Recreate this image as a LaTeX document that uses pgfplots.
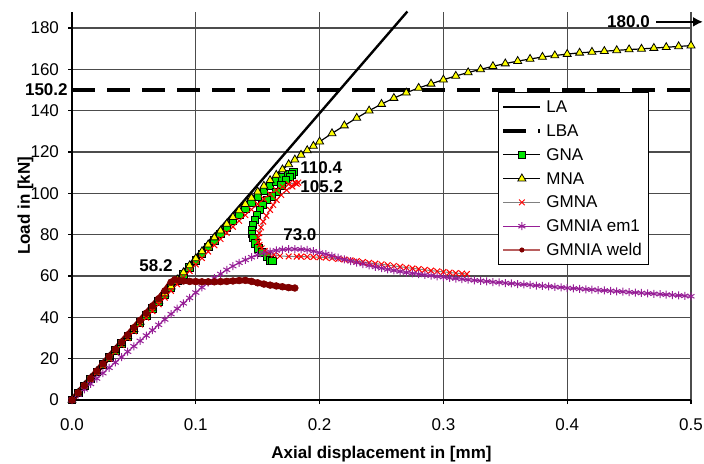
\documentclass[border=0pt]{standalone}
\usepackage{pgfplots}
\pgfplotsset{compat=1.18}
\usepackage{fontspec}
\setmainfont{Liberation Sans}
\usetikzlibrary{arrows.meta}
\definecolor{gnagreen}{RGB}{0,230,0}
\definecolor{mnayellow}{RGB}{255,255,0}
\definecolor{empurple}{RGB}{150,30,150}
\definecolor{weldred}{RGB}{128,0,0}
\definecolor{weldleg}{RGB}{185,95,95}
\newcommand{\f}{\fontsize{8.5}{10}\selectfont}
\begin{document}
\begin{tikzpicture}
\useasboundingbox (0,0) rectangle (352pt,231.5pt);
\begin{axis}[
  at={(36pt,31.5pt)}, anchor=south west,
  scale only axis, width=309.5pt, height=194.25pt,
  xmin=0, xmax=0.5, ymin=0, ymax=188,
  clip=false,
  axis x line*=bottom, axis y line*=left,
  axis line style={-, black, line width=0.6pt},
  xtick={0,0.1,0.2,0.3,0.4,0.5},
  xticklabels={0.0,0.1,0.2,0.3,0.4,0.5},
  ytick={0,20,40,60,80,100,120,140,160,180},
  yticklabels={0,20,40,60,80,100,120,140,160,180},
  tick align=outside, major tick length=2pt,
  tick style={black, line width=0.6pt},
  grid=major, major grid style={black!70, line width=0.6pt},
  tick label style={font=\f},
  xticklabel style={yshift=-4pt},
  yticklabel style={xshift=-1pt},
  xlabel={\bfseries Axial displacement in [mm]},
  ylabel={\bfseries Load in [kN]},
  label style={font=\f},
  xlabel style={at={(axis description cs:0.5,-0.139)}, anchor=center},
  ylabel style={at={(axis description cs:-0.075,0.5)}, anchor=center},
  legend style={at={(0.688,0.7928)}, anchor=north west, draw=black, line width=0.5pt, fill=white, font=\f,
    inner xsep=1.5pt, inner ysep=2pt, row sep=1.2pt,
    nodes={text height=6.5pt, text depth=1pt, inner ysep=1.6pt}},
  legend cell align=left,
  legend image code/.code={\draw[mark repeat=2,mark phase=2,#1] plot coordinates {(0pt,0pt) (9.25pt,0pt) (18.5pt,0pt)};},
]
% LA
\addplot[black, line width=1.2pt, no marks] coordinates {(0,0) (0.2709,188)};
\addlegendentry{LA}
% LBA
\addplot[black, line width=2pt, dash pattern=on 11.5pt off 6pt, no marks] coordinates {(0,150.2) (0.5,150.2)};
\addlegendentry{LBA}
% GNA
\addplot[black, line width=0.5pt, mark=square*, mark size=1.9pt, mark options={solid, fill=gnagreen, draw=black, line width=0.4pt}] coordinates {
(0,0) (0.005,3.4) (0.01,6.9) (0.015,10.3) (0.02,13.7) (0.025,17.1) (0.03,20.5) (0.035,23.9) (0.04,27.3) (0.045,30.7)
(0.05,34.1) (0.055,37.5) (0.06,40.9) (0.065,44.3) (0.07,47.6) (0.075,51) (0.08,54.3) (0.085,57.6) (0.09,60.9) (0.095,64.2)
(0.1,67.5) (0.105,70.7) (0.11,74) (0.115,77.2) (0.12,80.3) (0.125,83.5) (0.13,86.6) (0.135,89.7) (0.14,92.7) (0.145,95.6)
(0.15,98.4) (0.155,101.1) (0.16,103.6) (0.165,105.8) (0.17,107.8) (0.175,109.4) (0.1788,110.4)
(0.1775,109.2) (0.176,108) (0.1729,106.5) (0.169,103.8) (0.1653,100.8) (0.161,98.5) (0.1573,96.8) (0.154,94.5)
(0.1519,92) (0.1495,89.5) (0.1478,87.1) (0.1462,84.7) (0.1452,82.3) (0.1452,80.3) (0.1465,78.4) (0.148,75.9)
(0.1505,73.4) (0.1535,71.3) (0.1573,69.4) (0.1599,67.5) (0.162,67.4)
};
\addlegendentry{GNA}
% MNA
\addplot[black, line width=0.6pt, mark=triangle*, mark size=2.3pt, mark options={solid, fill=mnayellow, draw=black, line width=0.4pt}] coordinates {
(0,0) (0.005,3.45) (0.01,6.9) (0.015,10.35) (0.02,13.8) (0.025,17.2) (0.03,20.6) (0.035,24.1) (0.04,27.5) (0.045,30.9)
(0.05,34.3) (0.055,37.8) (0.06,41.2) (0.065,44.6) (0.07,48) (0.075,51.5) (0.08,54.9) (0.085,58.3) (0.09,61.7) (0.095,65.1)
(0.1,68.5) (0.105,71.9) (0.11,75.2) (0.115,78.6) (0.12,81.9) (0.125,85.2) (0.13,88.5) (0.135,91.7) (0.14,94.8) (0.145,97.8)
(0.15,100.8) (0.155,103.6) (0.16,106.3) (0.165,108.9) (0.17,111.5) (0.175,114) (0.18,116.3) (0.185,118.6) (0.19,120.8) (0.195,122.9)
(0.2,125) (0.21,129) (0.22,132.8) (0.23,136.5) (0.24,140) (0.25,143.2) (0.26,146.1) (0.27,148.7) (0.28,151) (0.29,153)
(0.3,155) (0.31,156.8) (0.32,158.5) (0.33,160) (0.34,161.5) (0.35,162.8) (0.36,164) (0.37,165) (0.38,166) (0.39,166.7)
(0.4,167.4) (0.41,168) (0.42,168.4) (0.43,168.8) (0.44,169.2) (0.45,169.6) (0.46,169.9) (0.47,170.3) (0.48,170.7) (0.49,171.1) (0.5,171.5)
};
\addlegendentry{MNA}
% GMNA
\addplot[black!50, line width=0.5pt, mark=x, mark size=2pt, mark options={solid, draw=red, line width=0.5pt}] coordinates {
(0,0) (0.005,3.3) (0.01,6.7) (0.015,10) (0.02,13.4) (0.025,16.7) (0.03,20) (0.035,23.3) (0.04,26.6) (0.045,29.9)
(0.05,33.2) (0.055,36.5) (0.06,39.8) (0.065,43) (0.07,46.3) (0.075,49.5) (0.08,52.8) (0.085,56) (0.09,59.2) (0.095,62.4)
(0.1,65.6) (0.105,68.7) (0.11,71.8) (0.115,74.9) (0.12,77.9) (0.125,80.9) (0.13,83.8) (0.135,86.7) (0.14,89.5) (0.145,92.2)
(0.15,94.8) (0.155,97.3) (0.16,99.6) (0.165,101.6) (0.17,103.2) (0.175,104.4) (0.18,105.1) (0.1828,105.2)
(0.1815,104.6) (0.178,103.3) (0.1734,101.6) (0.169,99.2) (0.1653,96.8) (0.1625,94.4) (0.16,92) (0.157,89.2) (0.1545,86.3)
(0.1527,83.5) (0.1513,80.7) (0.1505,78.6) (0.1505,76.6) (0.1515,75) (0.1532,73.4) (0.1556,72.1) (0.1586,71) (0.163,70.3)
(0.168,69.7) (0.175,69.5) (0.1815,69.4) (0.185,69.4) (0.19,69.3) (0.195,69.2) (0.2,69.1) (0.205,68.9) (0.21,68.6) (0.215,68.3)
(0.22,68) (0.225,67.6) (0.23,67.2) (0.235,66.8) (0.24,66.4) (0.245,66) (0.25,65.7) (0.255,65.3) (0.26,64.9) (0.265,64.5)
(0.27,64.1) (0.275,63.7) (0.28,63.4) (0.285,63) (0.29,62.6) (0.295,62.3) (0.3,62) (0.305,61.7) (0.31,61.4) (0.315,61.2) (0.319,61)
};
\addlegendentry{GMNA}
% GMNIA em1
\addplot[empurple, line width=0.5pt, mark=asterisk, mark size=2pt, mark options={solid, draw=empurple, line width=0.5pt}] coordinates {
(0,0) (0.005,2.6) (0.01,5.2) (0.015,7.8) (0.02,10.4) (0.025,13) (0.03,15.6) (0.035,18.2) (0.04,20.8) (0.045,23.4)
(0.05,26) (0.055,28.6) (0.06,31.2) (0.065,33.8) (0.07,36.4) (0.075,39) (0.08,41.6) (0.085,44.2) (0.09,46.8) (0.095,49.4)
(0.1,52) (0.105,54.5) (0.11,56.8) (0.115,59) (0.12,61) (0.125,63) (0.13,64.8) (0.135,66.4) (0.14,67.8) (0.145,69.1)
(0.15,70.2) (0.155,71.1) (0.16,71.8) (0.165,72.4) (0.17,72.8) (0.175,73) (0.18,73) (0.185,72.9) (0.19,72.6) (0.195,72)
(0.2,71.3) (0.205,70.6) (0.21,69.8) (0.215,68.9) (0.22,68) (0.225,67.2) (0.23,66.5) (0.235,65.8) (0.24,65.1) (0.245,64.4)
(0.25,63.8) (0.255,63.2) (0.26,62.7) (0.265,62.2) (0.27,61.7) (0.275,61.3) (0.28,60.9) (0.285,60.5) (0.29,60.2) (0.295,59.8)
(0.3,59.5) (0.305,59.1) (0.31,58.8) (0.315,58.5) (0.32,58.2) (0.325,57.9) (0.33,57.7) (0.335,57.4) (0.34,57.1) (0.345,56.9)
(0.35,56.6) (0.355,56.4) (0.36,56.1) (0.365,55.9) (0.37,55.7) (0.375,55.4) (0.38,55.2) (0.385,55) (0.39,54.7) (0.395,54.5)
(0.4,54.2) (0.405,54) (0.41,53.8) (0.415,53.6) (0.42,53.4) (0.425,53.2) (0.43,53) (0.435,52.8) (0.44,52.6) (0.445,52.4)
(0.45,52.2) (0.455,52) (0.46,51.8) (0.465,51.6) (0.47,51.4) (0.475,51.2) (0.48,51) (0.485,50.8) (0.49,50.6) (0.495,50.4) (0.5,50.2)
};
\addlegendentry{GMNIA em1}
% GMNIA weld
\addplot[weldred, line width=2.8pt, mark=*, mark size=1.7pt, mark options={solid, fill=weldred, draw=weldred, line width=0.3pt}, forget plot] coordinates {
(0,0) (0.005,3.5) (0.01,7) (0.015,10.5) (0.02,14) (0.025,17.5) (0.03,21) (0.035,24.5) (0.04,28) (0.045,31.5)
(0.05,35) (0.055,38.5) (0.06,42) (0.065,45.5) (0.07,49) (0.075,52.8) (0.08,57) (0.083,58.2) (0.087,57.8) (0.09,57.6)
(0.095,57.4) (0.1,57.3) (0.105,57.2) (0.11,57.2) (0.115,57.2) (0.12,57.3) (0.125,57.4) (0.13,57.6) (0.135,57.8) (0.14,57.9)
(0.145,57.4) (0.15,56.7) (0.155,56.1) (0.16,55.6) (0.165,55.2) (0.17,54.8) (0.175,54.4) (0.18,54.2)
};
\addlegendimage{weldleg, line width=0.6pt, mark=*, mark size=1.1pt, mark options={solid, fill=weldred, draw=weldred, line width=0.3pt}}
\addlegendentry{GMNIA weld}
% annotations
\node[font=\f\bfseries, anchor=east, inner sep=0pt] at (axis cs:0,150.2) [xshift=-2pt] {150.2};
\node[font=\f\bfseries, anchor=east, inner sep=0pt] at (axis cs:0.467,183) {180.0};
\draw[black, line width=1.2pt, -{Latex[length=5pt,width=5pt]}] (axis cs:0.472,183) -- (axis cs:0.5097,183);
\node[font=\f\bfseries, anchor=west, inner sep=0pt] at (axis cs:0.1842,112.3) {110.4};
\node[font=\f\bfseries, anchor=west, inner sep=0pt] at (axis cs:0.1842,103.2) {105.2};
\node[font=\f\bfseries, anchor=west, inner sep=0pt] at (axis cs:0.1704,79.9) {73.0};
\node[font=\f\bfseries, anchor=west, inner sep=0pt] at (axis cs:0.0541,65.0) {58.2};
\end{axis}
\end{tikzpicture}
\end{document}
